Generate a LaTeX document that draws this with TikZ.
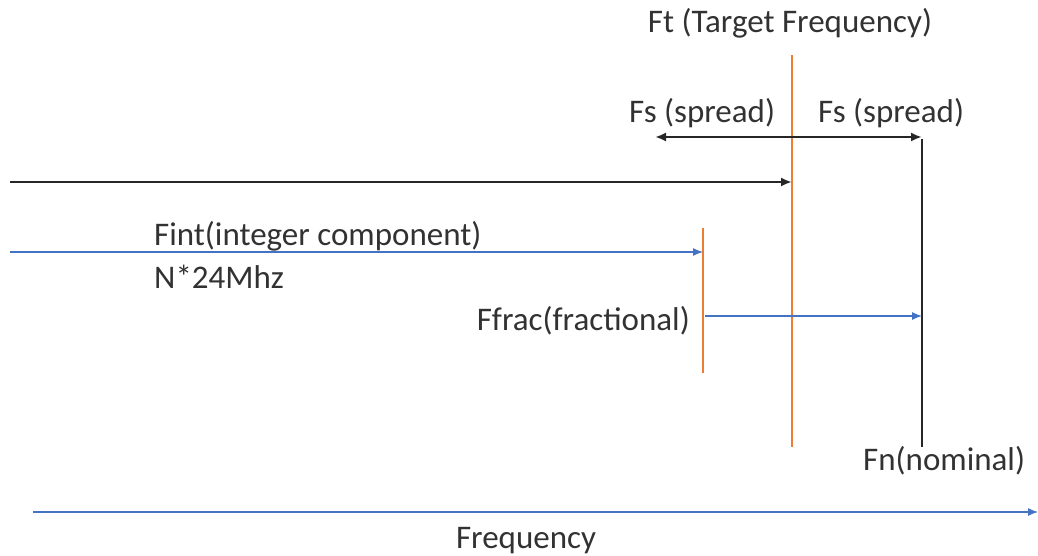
\documentclass[tikz,border=0pt]{standalone}
\usepackage{fontspec}
\setmainfont{Carlito}
\usetikzlibrary{arrows.meta}
\definecolor{ftorange}{RGB}{237,125,49}
\definecolor{fblue}{RGB}{68,114,196}
\definecolor{ftext}{RGB}{50,50,50}
\tikzset{every picture/.style = {x=1pt, y=-1pt}}
\tikzset{lbl/.style = {inner sep=0, text=ftext, font=\fontsize{33}{40}\selectfont}}
\tikzset{ftmark/.style = {draw=ftorange, line width=2.5pt}}
\tikzset{fnline/.style = {draw=black!85, line width=2.8pt,
    -{Latex[length=11pt,width=9pt]}}}
\tikzset{fbline/.style = {draw=fblue!80, line width=1.2pt,
    -{Latex[length=10pt,width=8pt]}, color=fblue}}

\begin{document}
\begin{tikzpicture}
  \useasboundingbox (0,0) rectangle (1038,556);
  % target frequency
  \draw[ftmark] (792,55) coordinate(ft1)
    -- (792,447) coordinate(ft2);
  \node(ft)[lbl, anchor=base] at (790,33) {Ft (Target Frequency)};
  \draw[fnline] (10,182) coordinate(a0) -- (ft1 |- a0);
  % spread
  \draw[fnline, {Latex[length=11pt,width=9pt]}-{Latex[length=11pt,width=9pt]}]
    (655,137) coordinate(s1) -- (922,137) coordinate(s2);
  \node(fsl)[lbl, anchor=base west] at (629,123) {Fs (spread)};
  \node(fsr)[lbl, anchor=base west] at (818,123) {Fs (spread)};
  % nominal
  \draw[draw=black!85, line width=2.8pt] (922,139) coordinate(fn1)
    -- (922,447) coordinate(fn2);
  \node(fn)[lbl, anchor=base west] at (863,470) {Fn(nominal)};
  % integer part
  \draw[ftmark] (703,228) coordinate(fr1)
    -- (703,373) coordinate(fr2);
  \draw[fbline] (10,252) coordinate(b0) -- (fr1 |- b0);
  \node(fint)[lbl, anchor=base west] at (154,245) {Fint(integer component)};
  \node(nmul)[lbl, anchor=base west] at (154,288) {N*24Mhz};
  % fractional part
  \draw[fbline] (705,316) coordinate(c0) -- (fn1 |- c0);
  \node(ffrac)[lbl, anchor=base east] at (690,330) {Ffrac(fractional)};
  % axis
  \draw[fbline] (33,512) coordinate(x0) -- (1038,512) coordinate(x1);
  \node(freq)[lbl, anchor=base] at (526,548) {Frequency};
\end{tikzpicture}
\end{document}
